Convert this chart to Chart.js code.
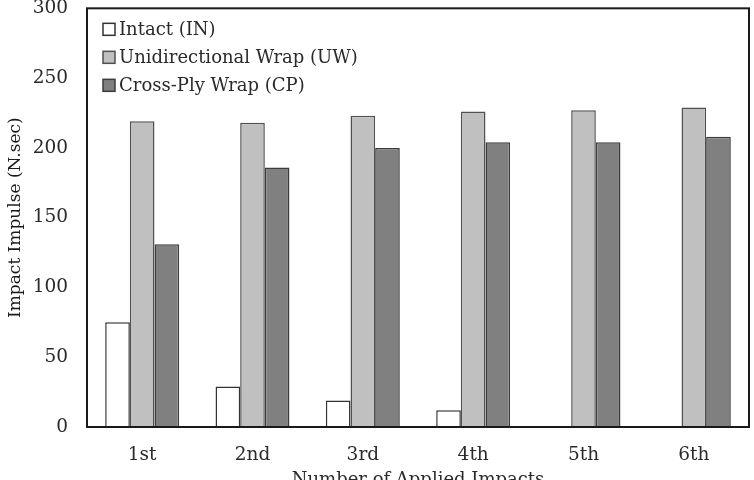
<!DOCTYPE html>
<html>
<head>
<meta charset="utf-8">
<script src="https://cdn.jsdelivr.net/npm/chart.js@4"></script>
<style>
  html, body { margin: 0; padding: 0; background: #fff; }
  #wrap { width: 754px; height: 480px; }
</style>
</head>
<body>
<div id="wrap"><canvas id="impactChart" width="754" height="480"></canvas></div>
<script>
// Data
const impacts = ['1st', '2nd', '3rd', '4th', '5th', '6th'];
const intact = [75, 29, 19, 12, 0, 0];
const uniWrap = [219, 218, 223, 226, 227, 229];
const crossPly = [131, 186, 200, 204, 204, 208];
const yTicks = [0, 50, 100, 150, 200, 250, 300];

const serif = "'DejaVu Serif', serif";

// frame around the plot + legend inside the top-left corner
const framePlugin = {
  id: 'frame',
  afterDraw(chart) {
    const { ctx, chartArea: a } = chart;
    ctx.save();
    ctx.strokeStyle = '#1a1a1a';
    ctx.lineWidth = 2;
    ctx.strokeRect(a.left, a.top, a.right - a.left, a.bottom - a.top);

    ctx.font = '18px ' + serif;
    ctx.textBaseline = 'middle';
    chart.data.datasets.forEach((ds, i) => {
      const y = a.top + 21 + i * 28;
      ctx.fillStyle = ds.backgroundColor;
      ctx.strokeStyle = ds.borderColor;
      ctx.lineWidth = 1.5;
      ctx.fillRect(a.left + 16, y - 6, 12, 12);
      ctx.strokeRect(a.left + 16, y - 6, 12, 12);
      ctx.fillStyle = '#2a2a2a';
      ctx.fillText(ds.label, a.left + 32, y + 1);
    });
    ctx.restore();
  }
};

const ctx = document.getElementById('impactChart').getContext('2d');
new Chart(ctx, {
  type: 'bar',
  data: {
    labels: impacts,
    datasets: [
      { label: 'Intact (IN)', data: intact, backgroundColor: '#ffffff', borderColor: '#333333' },
      { label: 'Unidirectional Wrap (UW)', data: uniWrap, backgroundColor: '#c0c0c0', borderColor: '#505050' },
      { label: 'Cross-Ply Wrap (CP)', data: crossPly, backgroundColor: '#808080', borderColor: '#3c3c3c' }
    ]
  },
  options: {
    responsive: false,
    animation: false,
    layout: { padding: { top: 0, right: 5, left: 0, bottom: 0 } },
    datasets: {
      bar: { borderWidth: 1.5, categoryPercentage: 0.67, barPercentage: 1.0 }
    },
    plugins: {
      legend: { display: false },
      tooltip: { enabled: false },
      title: { display: false }
    },
    scales: {
      x: {
        grid: { display: false, drawTicks: false },
        border: { display: false },
        ticks: { color: '#2a2a2a', font: { family: serif, size: 18.5 }, padding: 17 },
        title: {
          display: true,
          text: 'Number of Applied Impacts',
          color: '#2a2a2a',
          font: { family: serif, size: 18 },
          padding: { top: 0, bottom: -11 }
        },
        afterFit: s => { s.height = 53; }
      },
      y: {
        min: 0,
        max: 300,
        afterBuildTicks: s => { s.ticks = yTicks.map(v => ({ value: v })); },
        // invisible tick marks give the label gap without padding the top
        grid: { display: true, drawOnChartArea: false, drawTicks: true, tickLength: 19, color: 'rgba(0,0,0,0)' },
        border: { display: false },
        ticks: { color: '#2a2a2a', font: { family: serif, size: 18.5, lineHeight: 0.9 }, padding: 0 },
        title: {
          display: true,
          text: 'Impact Impulse (N.sec)',
          color: '#1a1a1a',
          font: { family: serif, size: 17 },
          padding: { top: 5, bottom: 0 }
        },
        afterFit: s => { s.width = 87; }
      }
    }
  },
  plugins: [framePlugin]
});
</script>
</body>
</html>
